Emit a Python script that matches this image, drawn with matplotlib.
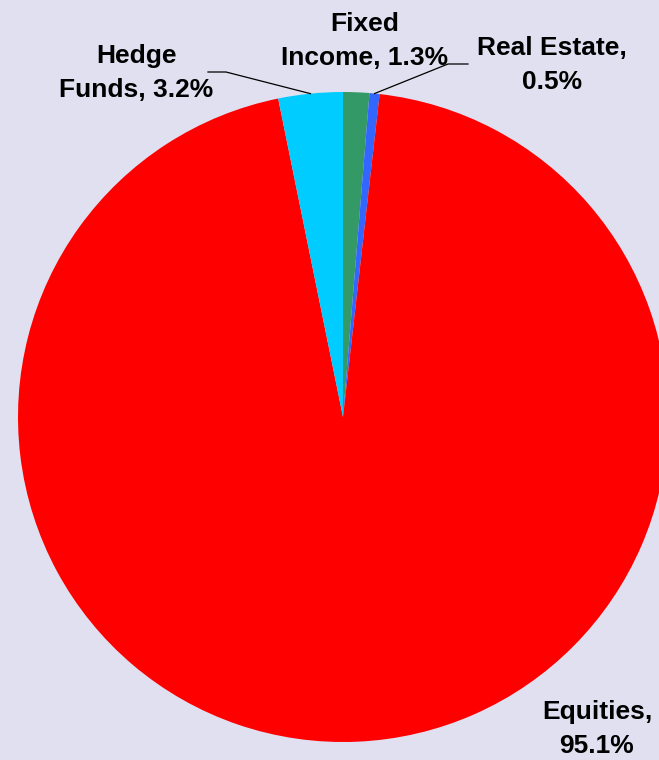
import numpy as np
import matplotlib.pyplot as plt

plt.rcParams['font.family'] = ['Liberation Sans', 'DejaVu Sans']

# Daten (im Uhrzeigersinn ab 12 Uhr)
labels = ['Fixed\nIncome, 1.3%', 'Real Estate,\n0.5%', 'Equities,\n95.1%', 'Hedge\nFunds, 3.2%']
anteile = [1.3, 0.5, 95.1, 3.2]
farben = ['#339966', '#3366FF', '#FF0000', '#00CCFF']

W, H = 659, 760
bg = '#E0E0F0'
fig = plt.figure(figsize=(W / 100, H / 100), dpi=100, facecolor=bg)
ax = fig.add_axes([0, 0, 1, 1])
ax.set_facecolor(bg)

cx, cy, r = 343, H - 417, 325
ax.pie(anteile, colors=farben, startangle=90, counterclock=False,
       center=(cx, cy), radius=r, wedgeprops=dict(linewidth=0),
       frame=True)
ax.set_xlim(0, W)
ax.set_ylim(0, H)
ax.axis('off')

# Mittelwinkel der Segmente
tot = sum(anteile)
cum = np.cumsum([0] + anteile)
mitte = [90 - 360 * (cum[i] + anteile[i] / 2) / tot for i in range(len(anteile))]

def rand(i):
    a = np.deg2rad(mitte[i])
    return cx + r * np.cos(a), cy + r * np.sin(a)

# Beschriftungen
pos = [(365, H - 41), (552, H - 65), (597, H - 729), (136, H - 73)]
for lab, (x, y) in zip(labels, pos):
    ax.text(x, y, lab, ha='center', va='center', fontsize=19,
            fontweight='bold', linespacing=1.5)

# Leader lines: Real Estate, Hedge Funds
ex, ey = rand(1)
ax.plot([468, 448, ex], [H - 64, H - 64, ey], color='black', lw=0.9)
ex, ey = rand(3)
ax.plot([208, 226, ex], [H - 72, H - 72, ey], color='black', lw=0.9)

fig.savefig('out.png', dpi=100, facecolor=bg)
